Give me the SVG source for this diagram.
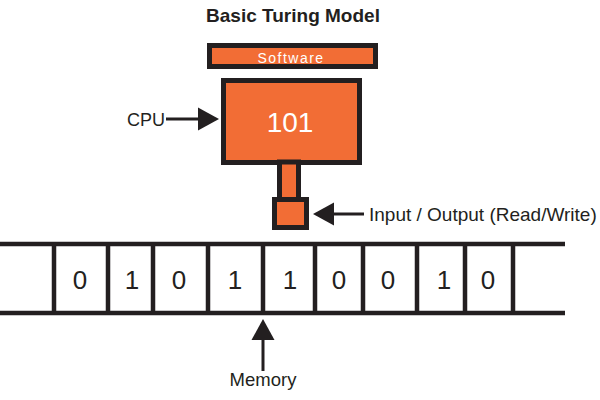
<svg xmlns="http://www.w3.org/2000/svg" width="600" height="400" viewBox="0 0 600 400">
<style>
.box{fill:#F26D35;stroke:#231F20;stroke-width:5}
.lbl{font-family:"Liberation Sans",Arial,sans-serif;fill:#231F20}
.wt{font-family:"Liberation Sans",Arial,sans-serif;fill:#FFFFFF}
.tape{stroke:#231F20;stroke-width:4.5;fill:none}
.dig{font-family:"Liberation Sans",Arial,sans-serif;font-size:26px;fill:#231F20;text-anchor:middle}
.ln{stroke:#231F20;stroke-width:3;fill:none}
.ah{fill:#231F20}
</style>
<rect width="600" height="400" fill="#FFFFFF"/>
<text id="title" class="lbl" x="293" y="22" font-size="19" font-weight="bold" text-anchor="middle">Basic Turing Model</text>
<g id="software">
<rect class="box" x="209.5" y="45.5" width="166" height="21"/>
<text class="wt" x="291" y="63" font-size="14" letter-spacing="1.5" text-anchor="middle">Software</text>
</g>
<g id="cpu">
<rect class="box" x="223.5" y="80.5" width="136" height="82"/>
<text class="wt" x="290" y="132" font-size="28" text-anchor="middle">101</text>
</g>
<g id="head">
<rect class="box" x="279.5" y="162" width="19" height="38"/>
<rect class="box" x="274.5" y="199.5" width="32" height="28"/>
</g>
<g id="tape">
<path class="tape" d="M0 244H565M0 313H565M54 244V313M108 244V313M153 244V313M208 244V313M263 244V313M315 244V313M363 244V313M417 244V313M465 244V313M513 244V313"/>
<text class="dig" x="80" y="289">0</text>
<text class="dig" x="132" y="289">1</text>
<text class="dig" x="179" y="289">0</text>
<text class="dig" x="235" y="289">1</text>
<text class="dig" x="290" y="289">1</text>
<text class="dig" x="339" y="289">0</text>
<text class="dig" x="388" y="289">0</text>
<text class="dig" x="444" y="289">1</text>
<text class="dig" x="488" y="289">0</text>
</g>
<g id="connectors">
<path class="ln" d="M166 119H200"/>
<polygon class="ah" points="219,119 198,107.5 198,130.5"/>
<path class="ln" d="M332 214H364"/>
<polygon class="ah" points="313,214 334,202.5 334,225.5"/>
<path class="ln" d="M263 338V371"/>
<polygon class="ah" points="263,319 251.5,340 274.5,340"/>
</g>
<text id="cpu-label" class="lbl" x="127" y="126" font-size="18">CPU</text>
<text id="io-label" class="lbl" x="369" y="221" font-size="19">Input / Output (Read/Write)</text>
<text id="memory-label" class="lbl" x="263" y="386" font-size="18.5" text-anchor="middle">Memory</text>
</svg>
